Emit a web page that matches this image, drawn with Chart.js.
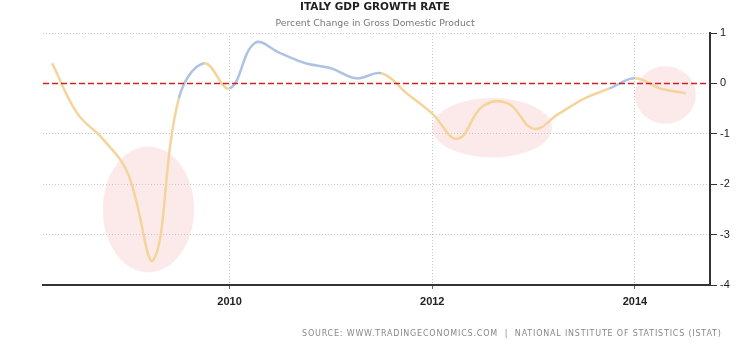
<!DOCTYPE html>
<html>
<head>
<meta charset="utf-8">
<title>Italy GDP Growth Rate</title>
<script src="https://cdn.jsdelivr.net/npm/chart.js@4.4.1/dist/chart.umd.min.js"></script>
<style>
    html, body { margin: 0; padding: 0; background: #fff; }
    #wrap { position: relative; width: 750px; height: 359px; overflow: hidden; }
    #gdpChart { position: absolute; left: 0; top: 0; }
    .caption { position: absolute; left: 0; width: 750px; text-align: center; white-space: nowrap; }
    #chartTitle { top: 1px; font: bold 10.5px 'DejaVu Sans', sans-serif; line-height: 10px; color: #222; }
    #chartSubtitle { top: 18px; font: 9.3px 'DejaVu Sans', sans-serif; line-height: 9px; color: #777; }
    #chartSource { top: 330px; left: 302px; width: auto; text-align: left; font: 8px 'DejaVu Sans', sans-serif; line-height: 8px; letter-spacing: 0.8px; color: #888; }
</style>
</head>
<body>
<div id="wrap">
    <canvas id="gdpChart" width="750" height="359"></canvas>
    <div class="caption" id="chartTitle">ITALY GDP GROWTH RATE</div>
    <div class="caption" id="chartSubtitle">Percent Change in Gross Domestic Product</div>
    <div class="caption" id="chartSource">SOURCE: WWW.TRADINGECONOMICS.COM &nbsp;|&nbsp; NATIONAL INSTITUTE OF STATISTICS (ISTAT)</div>
</div>
<script>
// quarterly GDP growth, q/q percent change
const quarterLabels = [
    '2008 Q1', '2008 Q2', '2008 Q3', '2008 Q4',
    '2009 Q1', '2009 Q2', '2009 Q3', '2009 Q4',
    '2010 Q1', '2010 Q2', '2010 Q3', '2010 Q4',
    '2011 Q1', '2011 Q2', '2011 Q3', '2011 Q4',
    '2012 Q1', '2012 Q2', '2012 Q3', '2012 Q4',
    '2013 Q1', '2013 Q2', '2013 Q3', '2013 Q4',
    '2014 Q1', '2014 Q2'
];
const gdpGrowth = [
    0.4, -0.6, -1.1, -1.8,
    -3.5, -0.3, 0.4, -0.1,
    0.8, 0.6, 0.4, 0.3,
    0.1, 0.2, -0.2, -0.6,
    -1.1, -0.45, -0.4, -0.9,
    -0.6, -0.3, -0.1, 0.1,
    -0.1, -0.2
];
const xTickYears = [2010, 2012, 2014];
const yTickValues = [1, 0, -1, -2, -3, -4];

// shaded areas, in data units (year, percent)
const highlights = [
    { x: 2009.2, y: -2.5, rx: 0.45, ry: 1.25 },
    { x: 2012.59, y: -0.88, rx: 0.59, ry: 0.59 },
    { x: 2014.3, y: -0.23, rx: 0.3, ry: 0.57 }
];

const X_MIN = 2008.16;
const X_MAX = 2014.74;

const UP_COLOR = '#aec3e2';
const DOWN_COLOR = '#f5d49c';
const FONT = "'Liberation Sans', Arial, sans-serif";

function quarterToYear(label) {
    const parts = label.split(' Q');
    return Number(parts[0]) + Number(parts[1]) * 0.25;
}

const highlightPlugin = {
    id: 'highlights',
    beforeDraw(chart) {
        const ctx = chart.ctx;
        const xs = chart.scales.x;
        const ys = chart.scales.y;
        ctx.save();
        ctx.fillStyle = 'rgba(250, 214, 214, 0.5)';
        highlights.forEach(h => {
            const cx = xs.getPixelForValue(h.x);
            const cy = ys.getPixelForValue(h.y);
            const rx = Math.abs(xs.getPixelForValue(h.x + h.rx) - cx);
            const ry = Math.abs(ys.getPixelForValue(h.y + h.ry) - cy);
            ctx.beginPath();
            ctx.ellipse(cx, cy, rx, ry, 0, 0, Math.PI * 2);
            ctx.fill();
        });
        ctx.restore();
    }
};

document.addEventListener('DOMContentLoaded', function () {
    const canvas = document.getElementById('gdpChart');
    const points = quarterLabels.map((q, i) => ({ x: quarterToYear(q), y: gdpGrowth[i] }));

    new Chart(canvas.getContext('2d'), {
        type: 'line',
        data: {
            datasets: [{
                label: 'zero',
                data: [{ x: X_MIN, y: 0 }, { x: X_MAX, y: 0 }],
                borderColor: '#cc2424',
                borderWidth: 1.5,
                borderDash: [6, 3],
                pointRadius: 0,
                tension: 0
            }, {
                label: 'GDP Growth Rate',
                data: points,
                borderColor: DOWN_COLOR,
                borderWidth: 2.5,
                pointRadius: 0,
                tension: 0.4,
                segment: {
                    borderColor: c => c.p1.parsed.y < 0 ? DOWN_COLOR : UP_COLOR
                }
            }]
        },
        options: {
            responsive: false,
            animation: false,
            devicePixelRatio: 1,
            layout: { padding: { top: 33, left: 43, right: 0, bottom: 0 } },
            plugins: {
                legend: { display: false },
                tooltip: { enabled: false }
            },
            scales: {
                x: {
                    type: 'linear',
                    min: X_MIN,
                    max: X_MAX,
                    afterBuildTicks: s => { s.ticks = xTickYears.map(v => ({ value: v })); },
                    afterFit: s => { s.height = 74; },
                    grid: { color: '#c8c8c8', tickColor: '#666', tickLength: 4, tickBorderDash: [] },
                    border: { color: '#333', width: 2, dash: [1, 2] },
                    ticks: {
                        font: { family: FONT, size: 11, weight: 'bold' },
                        color: '#222',
                        padding: 6,
                        maxRotation: 0,
                        callback: v => String(v)
                    }
                },
                y: {
                    position: 'right',
                    min: -4,
                    max: 1,
                    afterBuildTicks: s => { s.ticks = yTickValues.map(v => ({ value: v })); },
                    afterFit: s => { s.width = 40; },
                    grid: {
                        color: c => (c.tick && c.tick.value === 0) ? 'rgba(0,0,0,0)' : '#c8c8c8',
                        tickColor: '#333',
                        tickLength: 7,
                        tickBorderDash: []
                    },
                    border: { color: '#333', width: 2, dash: [1, 2] },
                    ticks: {
                        font: { family: FONT, size: 11 },
                        color: '#222',
                        padding: 3
                    }
                }
            }
        },
        plugins: [highlightPlugin]
    });
});
</script>
</body>
</html>
